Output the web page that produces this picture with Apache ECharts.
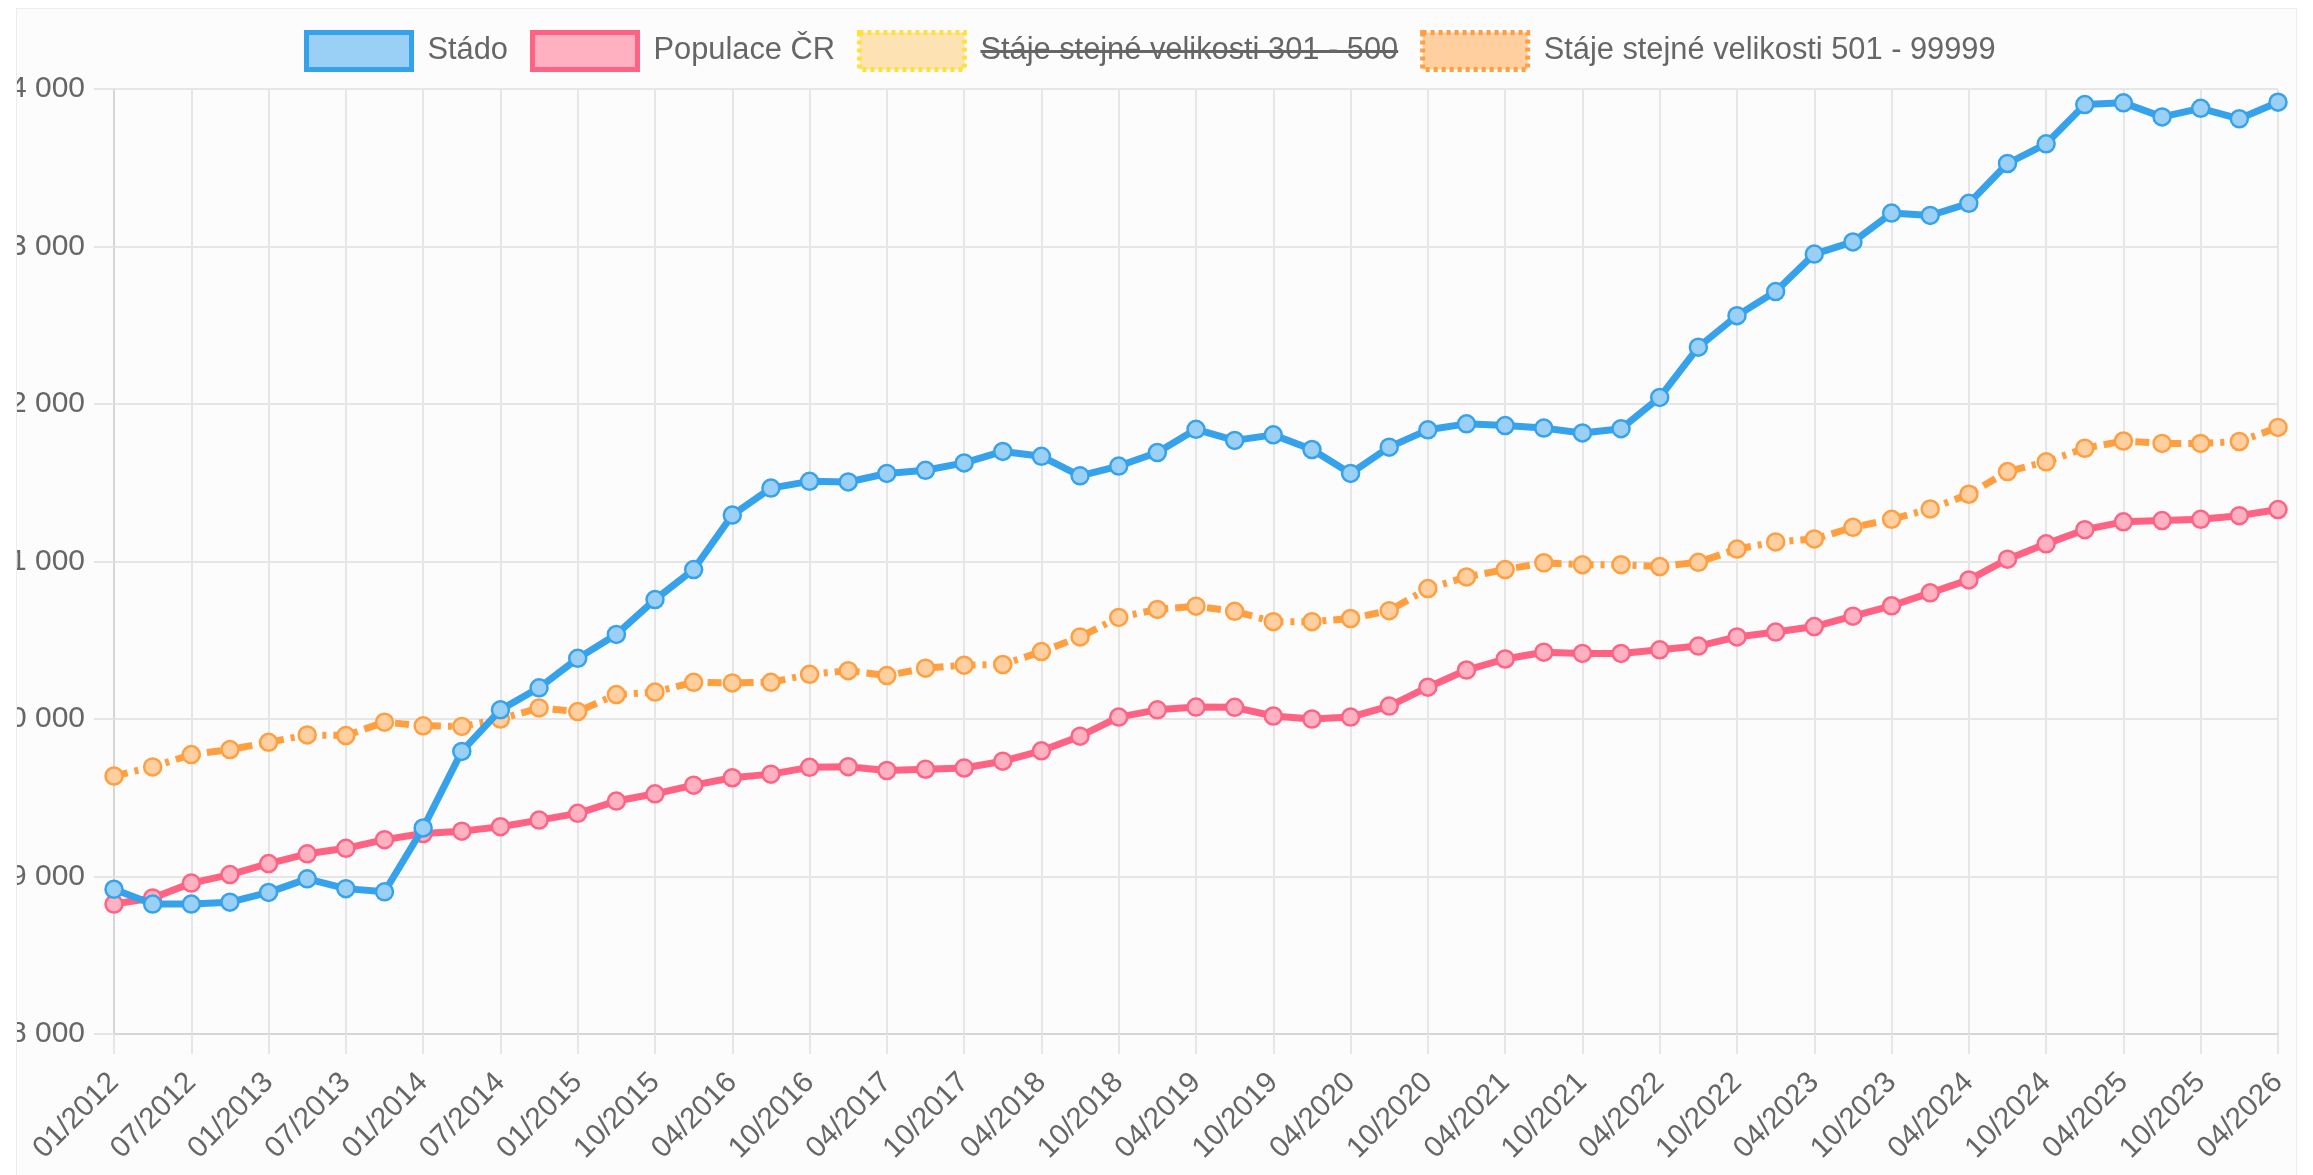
<!DOCTYPE html>
<html>
<head>
<meta charset="utf-8">
<script src="https://cdn.jsdelivr.net/npm/echarts@6/dist/echarts.min.js"></script>
<style>
  html, body { margin: 0; padding: 0; background: #ffffff; overflow: hidden; width: 2313px; height: 1175px; }
  #chart { position: absolute; left: 16px; top: 8px; width: 2279px; height: 1170px;
           border: 1px solid #ececec; background: #fcfcfc; overflow: hidden; }
</style>
</head>
<body>
<div id="chart"></div>
<script>
// Categories (quarterly; one irregular step in 2015)
const categories = [
  '01/2012','04/2012','07/2012','10/2012',
  '01/2013','04/2013','07/2013','10/2013',
  '01/2014','04/2014','07/2014','10/2014',
  '01/2015','06/2015','10/2015',
  '01/2016','04/2016','07/2016','10/2016',
  '01/2017','04/2017','07/2017','10/2017',
  '01/2018','04/2018','07/2018','10/2018',
  '01/2019','04/2019','07/2019','10/2019',
  '01/2020','04/2020','07/2020','10/2020',
  '01/2021','04/2021','07/2021','10/2021',
  '01/2022','04/2022','07/2022','10/2022',
  '01/2023','04/2023','07/2023','10/2023',
  '01/2024','04/2024','07/2024','10/2024',
  '01/2025','04/2025','07/2025','10/2025',
  '01/2026','04/2026'
];

const seriesNames = ['Stádo', 'Populace ČR', 'Stáje stejné velikosti 301 - 500', 'Stáje stejné velikosti 501 - 99999'];

const stado = [
  8919, 8825, 8825, 8837, 8899, 8985, 8923, 8903, 9308, 9794,
  10058, 10198, 10385, 10537, 10758, 10949, 11295, 11466, 11509, 11505,
  11559, 11579, 11626, 11699, 11668, 11544, 11606, 11692, 11839, 11769,
  11804, 11711, 11559, 11726, 11836, 11874, 11863, 11847, 11816, 11843,
  12042, 12361, 12561, 12714, 12952, 13029, 13212, 13197, 13274, 13527,
  13652, 13901, 13912, 13823, 13877, 13811, 13916
];

const populace = [
  8825, 8864, 8958, 9012, 9082, 9144, 9179, 9234, 9273, 9288,
  9316, 9358, 9401, 9479, 9525, 9580, 9627, 9650, 9693, 9697,
  9673, 9681, 9689, 9732, 9798, 9891, 10012, 10058, 10076, 10074,
  10019, 10000, 10012, 10082, 10202, 10311, 10381, 10424, 10416, 10416,
  10439, 10463, 10521, 10552, 10587, 10653, 10719, 10801, 10883, 11015,
  11112, 11202, 11252, 11260, 11268, 11291, 11330
];

// hidden in the reference (legend item struck through) – no points drawn
const staje301 = [];

const staje501 = [
  9638, 9696, 9774, 9806, 9852, 9899, 9895, 9980, 9957, 9953,
  10000, 10070, 10047, 10155, 10171, 10233, 10229, 10233, 10284, 10307,
  10276, 10323, 10342, 10346, 10428, 10521, 10645, 10696, 10716, 10684,
  10618, 10618, 10638, 10688, 10828, 10902, 10949, 10992, 10980, 10980,
  10968, 10995, 11079, 11124, 11143, 11217, 11268, 11334, 11427, 11571,
  11633, 11719, 11765, 11750, 11750, 11762, 11851
];

const yMin = 8000, yMax = 14000, yStep = 1000;

const FONT = '"Liberation Sans", Arial, Helvetica, sans-serif';
const chart = echarts.init(document.getElementById('chart'), null, { renderer: 'canvas' });

function fmtThousands(v) {
  return String(v).replace(/\B(?=(\d{3})+(?!\d))/g, ' ');
}

const option = {
  animation: false,
  backgroundColor: 'transparent',
  textStyle: { fontFamily: FONT },
  legend: {
    left: 287,
    top: 21,
    padding: 0,
    itemGap: 22,
    itemWidth: 105,
    itemHeight: 37,
    icon: 'rect',
    selectedMode: false,
    textStyle: { fontSize: 30.8, color: '#666666', fontFamily: FONT, padding: [0, 0, 0, 11] },
    data: [
      { name: seriesNames[0], itemStyle: { color: '#9ad0f5', borderColor: '#36a2eb', borderWidth: 5 } },
      { name: seriesNames[1], itemStyle: { color: '#ffb1c1', borderColor: '#ff6384', borderWidth: 5 } },
      { name: seriesNames[2], itemStyle: { color: '#fde2b4', borderColor: '#ffe13a', borderWidth: 5, borderType: [4, 4] } },
      { name: seriesNames[3], itemStyle: { color: '#ffcf9f', borderColor: '#ff9f40', borderWidth: 5, borderType: [4, 4] } }
    ]
  },
  grid: {
    left: 97, right: 18, top: 80, bottom: 145,
    containLabel: false,
    outerBoundsMode: 'none'
  },
  xAxis: {
    type: 'category',
    data: categories,
    boundaryGap: false,
    axisLine: { show: true, lineStyle: { color: '#d6d6d6', width: 2 } },
    axisTick: { show: true, interval: 1, length: 20, lineStyle: { color: '#e6e6e6', width: 2 } },
    splitLine: { show: true, interval: 1, lineStyle: { color: '#e6e6e6', width: 2 } },
    axisLabel: {
      interval: 1, rotate: 45, margin: 44,
      fontSize: 29.5, color: '#666666', fontFamily: FONT
    }
  },
  yAxis: {
    type: 'value',
    min: yMin, max: yMax, interval: yStep,
    axisLine: { show: true, lineStyle: { color: '#d6d6d6', width: 2 } },
    axisTick: { show: true, length: 20, lineStyle: { color: '#e6e6e6', width: 2 } },
    splitLine: { show: true, lineStyle: { color: '#e6e6e6', width: 2 } },
    axisLabel: {
      margin: 29, fontSize: 30, color: '#666666', fontFamily: FONT,
      formatter: fmtThousands
    }
  },
  series: [
    {
      name: seriesNames[0], type: 'line', data: stado, z: 5,
      symbol: 'circle', symbolSize: 17, showSymbol: true,
      lineStyle: { color: '#36a2eb', width: 7 },
      itemStyle: { color: '#9ad0f5', borderColor: '#36a2eb', borderWidth: 2.5 }
    },
    {
      name: seriesNames[1], type: 'line', data: populace, z: 4,
      symbol: 'circle', symbolSize: 17, showSymbol: true,
      lineStyle: { color: '#ff6384', width: 7 },
      itemStyle: { color: '#ffb1c1', borderColor: '#ff6384', borderWidth: 2.5 }
    },
    {
      name: seriesNames[2], type: 'line', data: staje301, z: 3,
      symbol: 'circle', symbolSize: 17,
      lineStyle: { color: '#ffcd56', width: 7, type: [4, 4] },
      itemStyle: { color: '#ffe6ab', borderColor: '#ffcd56', borderWidth: 2.5 }
    },
    {
      name: seriesNames[3], type: 'line', data: staje501, z: 3,
      symbol: 'circle', symbolSize: 17, showSymbol: true,
      lineStyle: { color: '#ff9f40', width: 7, type: [14, 7, 4, 7] },
      itemStyle: { color: '#ffcf9f', borderColor: '#ff9f40', borderWidth: 2.5 }
    }
  ]
};

chart.setOption(option);

// Strike-through for the hidden dataset's legend label, positioned from the rendered text
(function addStrike() {
  let found = null;
  const roots = chart.getZr().storage.getRoots();
  roots.forEach(function (root) {
    const visit = function (el) {
      if (found) return;
      if (el.style && el.style.text === seriesNames[2] && (el.type === 'text' || el.type === 'tspan')) { found = el; return; }
      if (el.childrenRef) el.childrenRef().forEach(visit);
    };
    visit(root);
  });
  if (!found) return;
  const r = found.getBoundingRect().clone();
  found.updateTransform && found.updateTransform();
  const m = found.getComputedTransform();
  if (m) r.applyTransform(m);
  const y = r.y + r.height * 0.52;
  chart.setOption({
    graphic: [{
      type: 'line', z: 100, silent: true,
      shape: { x1: r.x, y1: y, x2: r.x + r.width, y2: y },
      style: { stroke: '#666666', lineWidth: 3 }
    }]
  });
})();
</script>
</body>
</html>
